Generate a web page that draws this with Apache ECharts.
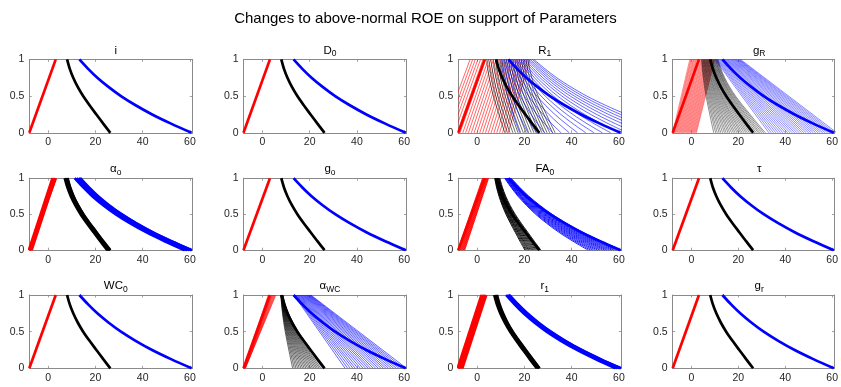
<!DOCTYPE html>
<html><head><meta charset="utf-8">
<script src="https://cdn.jsdelivr.net/npm/echarts@6/dist/echarts.min.js"></script>
<style>html,body{margin:0;padding:0;background:#fff}#c{width:841px;height:387px}</style>
</head><body><div id="c"></div>
<script>
// ---------- data ----------
const chartTitle = 'Changes to above-normal ROE on support of Parameters';
const panelTitles = [['i',''],['D','0'],['R','1'],['g','R'],['α','o'],['g','o'],['FA','0'],['τ',''],['WC','0'],['α','WC'],['r','1'],['g','r']];
const xRange = [-8, 61];
const xTickValues = [0, 20, 40, 60];
const yTickValues = [0, 0.5, 1];
const yLevels = [1, 0.875, 0.75, 0.625, 0.5, 0.375, 0.25, 0.125, 0];
// base (thick) curves, x read at each y level
const baseRedX = [-8, 3.2];                 // x at y=0, x at y=1
const baseBlackX = [8.0, 9.1, 10.6, 12.5, 14.8, 17.5, 20.4, 23.3, 26.3];
const baseBlueX = [13.2, 16.8, 20.8, 25.5, 30.8, 37.0, 44.0, 52.0, 60.7];

// R1 bundle
const R1_redBot = [-14.5,-13.3,-12.1,-10.9,-9.7,-8.5,-7.3,-6.1,-4.9,-3.7,-2.5,-1.3,-0.1,1.1,2.3,3.5,4.7,5.9,7.1,8.3,9.5,10.7,11.9,13.1];
const R1_redTop = [-3.0,-1.9,-0.8,0.3,1.4,2.5,3.6,4.7,5.8,6.9,8.0,9.1,10.2,11.3,12.4,13.5,14.6,15.7,16.8,17.9,19.0,20.1,21.2,22.3];
const R1_blackTop = [4.0,4.9,5.8,6.8,7.7,8.6,9.5,10.4,11.4,12.3,13.2,14.1,15.0,16.0,16.9,17.8,18.7,19.6,20.6,21.5];
const R1_blackBot = [11.7,12.8,13.9,15.1,16.2,17.3,18.4,19.5,20.7,21.8,22.9,24.0,25.1,26.3,27.4,28.5,29.6,30.7,31.9,33.0];
const R1_blueTop = [10.0,10.7,11.5,12.2,12.9,13.7,14.4,15.2,15.9,16.6,17.4,18.1,18.8,19.6,20.3,21.1,21.8,22.5,23.3,24.0];
const R1_blueBot = [18,21.5,25,28.5,32,35.5,39,42.5,46,49.5,53,56.5,60,63.5,67,70.5,74,77.5,81,84.5];

// gR bundle
const gR_redBot = [-8.0,-7.65,-7.3,-6.95,-6.6,-6.25,-5.9,-5.55,-5.2,-4.85,-4.5,-4.15,-3.8,-3.45,-3.1,-2.75,-2.4,-2.05,-1.7,-1.35,-1.0,-0.65,-0.3,0.05,0.4,0.75,1.1,1.45,1.8,2.1];
const gR_redTop = [-0.7,-0.3,0.0,0.4,0.8,1.1,1.5,1.9,2.2,2.6,3.0,3.3,3.7,4.1,4.4,4.8,5.2,5.5,5.9,6.3,6.6,7.0,7.4,7.7,8.1,8.5,8.8,9.2,9.6,9.9];
const gR_blackTop = [4.3,4.5,4.8,5.0,5.3,5.5,5.7,6.0,6.2,6.5,6.7,6.9,7.2,7.4,7.7,7.9,8.1,8.4,8.6,8.9,9.1,9.3,9.6,9.8,10.1,10.3,10.5,10.8,11.0,11.3];
const gR_blackBot = [9.5,10.3,11.0,11.8,12.5,13.3,14.1,14.8,15.6,16.3,17.1,17.9,18.6,19.4,20.1,20.9,21.6,22.4,23.2,23.9,24.7,25.4,26.2,27.0,27.7,28.5,29.2,30.0,30.8,31.5];
const gR_blueTop = [10.0,10.4,10.8,11.1,11.5,11.9,12.3,12.6,13.0,13.4,13.8,14.1,14.5,14.9,15.3,15.6,16.0,16.4,16.8,17.1,17.5,17.9,18.3,18.6,19.0,19.4,19.8,20.1,20.5,20.9];
const gR_blueBot = [33,34,35,36,37,38,39,40,41,42,43,44,45,46,47,48,49,50,51,52,53,54,55,56,57,58,59,60,61,62];

// alpha_o bundle
const ao_redBot = [-8.2,-7.9,-7.6,-7.3,-7.0];
const ao_redTop = [1.8,2.1,2.4,2.7,3.0];
const ao_blackTop = [7.0,7.4,7.8,8.2];
const ao_blackBot = [25.0,25.4,25.8,26.2];
const ao_blueTop = [11.2,12.0,12.8,13.6];
const ao_blueBot = [57.8,58.8,59.8,60.8];

// FA0 bundle
const FA_redBot = [-8.3,-8.0,-7.7,-7.4,-7.1,-6.8,-6.5,-6.2,-5.9,-5.6,-5.3];
const FA_redTop = [2.3,2.55,2.8,3.05,3.3,3.55,3.8,4.05,4.3,4.55,4.8];
const FA_blackTop = [7.4,7.55,7.7,7.85,8.0,8.15,8.3,8.45,8.6,8.75,8.9,9.05,9.2,9.4,9.6];
const FA_blackBot = [20.2,20.7,21.2,21.7,22.1,22.6,23.1,23.6,24.1,24.6,25.1,25.6,26.0,26.5,27.0];
const FA_blueTop = [11.6,11.8,12.0,12.2,12.4,12.6,12.8,13.0,13.2,13.4,13.6,13.8,14.0,14.2,14.4];
const FA_blueBot = [47,48,49,50,51,52,53,54,55,56,57,58,59,60,61];

// alpha_WC bundle
const aWC_redBot = [-8.0,-7.9,-7.85,-7.8,-7.7,-7.6,-7.55,-7.5,-7.4,-7.3,-7.25,-7.2];
const aWC_redTop = [2.5,2.8,3.1,3.4,3.7,4.0,4.2,4.5,4.8,5.1,5.4,5.7];
const aWC_blackTop = [7.8,7.85,7.9,7.95,8.0,8.05,8.1,8.15,8.2,8.25,8.3,8.35,8.4,8.45,8.5,8.5,8.55,8.6,8.6,8.6];
const aWC_blackBot = [12.8,13.5,14.2,14.9,15.6,16.3,17.0,17.7,18.4,19.1,19.8,20.5,21.2,21.9,22.6,23.3,24.0,24.7,25.5,26.3];
const aWC_blueTop = [13.3,13.6,13.9,14.2,14.5,14.8,15.1,15.4,15.7,16.0,16.3,16.6,16.9,17.2,17.5,17.8,18.1,18.4,18.7,19.0,19.3,19.6,19.9,20.2,20.5];
const aWC_blueBot = [35,36.1,37.2,38.3,39.3,40.4,41.5,42.6,43.7,44.8,45.8,46.9,48,49.1,50.2,51.3,52.3,53.4,54.5,55.6,56.7,57.8,58.8,59.9,61];

// r1 bundle
const r1_redBot = [-8.3,-7.8,-7.3,-6.8,-6.3];
const r1_redTop = [1.8,2.3,2.8,3.3,3.8];
const r1_blackTop = [7.2,7.6,8.0,8.4];
const r1_blackBot = [25.2,25.6,26.0,26.4];
const r1_blueTop = [12.2,12.7,13.2,13.7];
const r1_blueBot = [58.5,59.3,60.1,60.9];

// ---------- layout ----------
const gridLefts = [29.3, 243.5, 458.3, 672.7];
const gridTops = [59.4, 178.2, 295];
const gridHeights = [73.4, 72, 73.3];
const gridWidth = 163;

const bundles = {
  2: {red:[R1_redBot,R1_redTop], black:[R1_blackTop,R1_blackBot], blue:[R1_blueTop,R1_blueBot], w:0.6},
  3: {red:[gR_redBot,gR_redTop], black:[gR_blackTop,gR_blackBot], blue:[gR_blueTop,gR_blueBot], w:0.45, blueStraight:true},
  4: {red:[ao_redBot,ao_redTop], black:[ao_blackTop,ao_blackBot], blue:[ao_blueTop,ao_blueBot], w:2.6},
  6: {red:[FA_redBot,FA_redTop], black:[FA_blackTop,FA_blackBot], blue:[FA_blueTop,FA_blueBot], w:0.9},
  9: {red:[aWC_redBot,aWC_redTop], black:[aWC_blackTop,aWC_blackBot], blue:[aWC_blueTop,aWC_blueBot], w:0.6, blueStraight:true},
  10:{red:[r1_redBot,r1_redTop], black:[r1_blackTop,r1_blackBot], blue:[r1_blueTop,r1_blueBot], w:2.6}
};

function profileLine(top, bot, base) {
  const x0 = base[0], x1 = base[base.length-1];
  return yLevels.map((y,i) => [top + (bot-top)*(base[i]-x0)/(x1-x0), y]);
}

const FONT = 'Liberation Sans, Arial, sans-serif';
const axisColor = '#8a8a8a';
const lblStyle = {color:'#262626', fontSize:10.5, fontFamily:FONT};
const grids = [], xAxes = [], yAxes = [], series = [], titles = [];

titles.push({text: chartTitle, left: 420.5, top: 6, textAlign: 'center',
  textStyle:{fontSize:15, fontWeight:'normal', color:'#000', fontFamily:FONT}});

for (let p = 0; p < 12; p++) {
  const r = Math.floor(p/4), c = p%4;
  const left = gridLefts[c], top = gridTops[r], h = gridHeights[r];
  grids.push({left: left, top: top, width: gridWidth, height: h, containLabel:false});
  const tickCommon = {show:true, inside:true, length:2.5, lineStyle:{color:axisColor, width:0.8}};
  const lineCommon = {show:true, onZero:false, lineStyle:{color:axisColor, width:1}};
  xAxes.push({type:'value', gridIndex:p, position:'bottom', min:xRange[0], max:xRange[1],
    axisLine:lineCommon, splitLine:{show:false},
    axisTick:Object.assign({customValues:xTickValues}, tickCommon),
    axisLabel:Object.assign({customValues:xTickValues, margin:4}, lblStyle)});
  xAxes.push({type:'value', gridIndex:p, position:'top', min:xRange[0], max:xRange[1],
    axisLine:lineCommon, splitLine:{show:false},
    axisTick:Object.assign({customValues:xTickValues}, tickCommon),
    axisLabel:{show:false}});
  yAxes.push({type:'value', gridIndex:p, position:'left', min:0, max:1, interval:0.5,
    axisLine:lineCommon, splitLine:{show:false}, axisTick:tickCommon,
    axisLabel:Object.assign({margin:5, formatter:(v)=>String(v)}, lblStyle)});
  yAxes.push({type:'value', gridIndex:p, position:'right', min:0, max:1, interval:0.5,
    axisLine:lineCommon, splitLine:{show:false}, axisTick:tickCommon, axisLabel:{show:false}});

  const xi = p*2, yi = p*2;
  const mk = (data, color, width, smooth) => ({type:'line', xAxisIndex:xi, yAxisIndex:yi, data:data,
    showSymbol:false, symbol:'none', smooth:smooth, silent:true, animation:false, clip:true,
    lineStyle:{color:color, width:width}});

  const b = bundles[p];
  if (b) {
    for (let k=0;k<b.red[0].length;k++) series.push(mk([[b.red[0][k],0],[b.red[1][k],1]], '#ff0000', b.w, false));
    for (let k=0;k<b.black[0].length;k++) series.push(mk(profileLine(b.black[0][k], b.black[1][k], baseBlackX), '#000000', b.w, 0.3));
    for (let k=0;k<b.blue[0].length;k++) {
      const d = b.blueStraight ? [[b.blue[0][k],1],[b.blue[1][k],0]] : profileLine(b.blue[0][k], b.blue[1][k], baseBlueX);
      series.push(mk(d, '#0000ff', b.w, b.blueStraight ? false : 0.3));
    }
  }
  series.push(mk([[baseRedX[0],0],[baseRedX[1],1]], '#ff0000', 2.7, false));
  series.push(mk(yLevels.map((y,i)=>[baseBlackX[i], y]), '#000000', 2.7, 0.3));
  series.push(mk(yLevels.map((y,i)=>[baseBlueX[i], y]), '#0000ff', 2.7, 0.3));

  const t = panelTitles[p];
  titles.push({text: t[1] ? '{m|'+t[0]+'}{s|'+t[1]+'}' : '{m|'+t[0]+'}', left: left + gridWidth/2, top: top - 20,
    textAlign:'center',
    textStyle:{fontWeight:'normal', rich:{
      m:{fontSize:11.5, fontWeight:'normal', lineHeight:14, verticalAlign:'top', color:'#000', fontFamily:FONT},
      s:{fontSize:8.5, fontWeight:'normal', lineHeight:14, verticalAlign:'bottom', padding:[4,0,0,0], color:'#000', fontFamily:FONT}
    }}});
}

const chart = echarts.init(document.getElementById('c'), null, {renderer:'canvas'});
chart.setOption({animation:false, backgroundColor:'#fff', title:titles, grid:grids, xAxis:xAxes, yAxis:yAxes, series:series});
</script></body></html>
